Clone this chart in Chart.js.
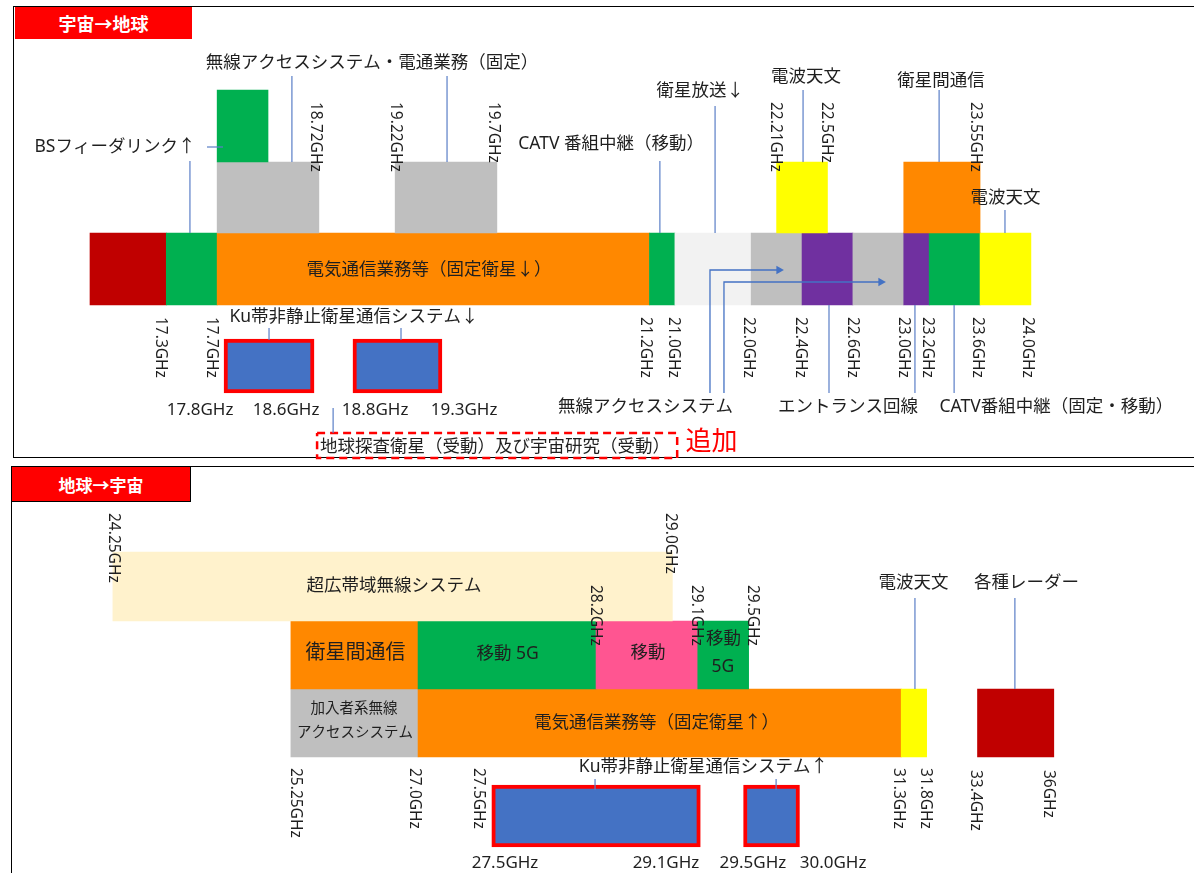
<!DOCTYPE html>
<html lang="ja">
<head>
<meta charset="UTF-8">
<title>周波数割当（宇宙→地球 / 地球→宇宙）</title>
<script src="https://cdn.jsdelivr.net/npm/chart.js@4.4.1/dist/chart.umd.min.js"></script>
<style>
  body { margin: 0; background: #fff; font-family: "Noto Sans", "Noto Sans CJK JP", sans-serif; }
  #wrap { position: relative; width: 1194px; height: 873px; overflow: hidden; }
  .panel { position: absolute; border: 1.5px solid #000; box-sizing: border-box; }
  .tab { position: absolute; background: #f00; color: #fff; font-weight: bold;
         display: flex; align-items: center; justify-content: center; box-sizing: border-box; }
  canvas { position: absolute; left: 0; top: 0; }
</style>
</head>
<body>
<div id="wrap">
  <div class="panel" style="left:13px; top:6px; width:1300px; height:452px;"></div>
  <div class="panel" style="left:11px; top:466px; width:1300px; height:500px;"></div>
  <div class="tab" style="left:15px; top:7px; width:177px; height:32px; font-size:18px;">宇宙→地球</div>
  <div class="tab" style="left:11px; top:466px; width:180px; height:36px; font-size:17px; border:1.5px solid #000;">地球→宇宙</div>
  <canvas id="chart" width="1194" height="873"></canvas>
</div>
<script>
// schematic frequency axis: one slot = one grid column of the original slide
const W = 1194, H = 873, COLPX = 25.43, X0PX = 90;

const RED = '#C00000', GREEN = '#00B050', ORANGE = '#FF8800', LIGHT = '#F2F2F2',
      GRAY = '#BFBFBF', PURPLE = '#7030A0', YELLOW = '#FFFF00', BEIGE = '#FFF2CC',
      PINK = '#FF5591', BLUE = '#4472C4', LEAD = '#5B7FC7', TXT = '#1f1f1f';

// ---- 宇宙→地球 ----
const downMainEdges = [0, 3, 5, 22, 23, 26, 28, 30, 32, 33, 35, 37];
const downMainColors = [RED, GREEN, ORANGE, GREEN, LIGHT, GRAY, PURPLE, GRAY, PURPLE, GREEN, YELLOW];
const downUpperFrom = [5, 12, 27, 32];
const downUpperTo = [9, 16, 29, 35];
const downUpperColors = [GRAY, GRAY, YELLOW, ORANGE];
const downTopFrom = [5], downTopTo = [7];
const downKuFrom = [5.27, 10.34], downKuTo = [8.81, 13.84];

const downTickText = ['18.72GHz', '19.22GHz', '19.7GHz', '22.21GHz', '22.5GHz', '23.55GHz',
  '17.3GHz', '17.7GHz', '21.2GHz', '21.0GHz', '22.0GHz', '22.4GHz', '22.6GHz', '23.0GHz', '23.2GHz', '23.6GHz', '24.0GHz'];
const downTickSlot = [9.12, 12.27, 16.12, 27.21, 29.22, 35.08,
  3.03, 5.03, 22.1, 23.2, 26.15, 28.2, 30.24, 32.25, 33.19, 35.16, 37.12];
const downTickTop = [102, 102, 102, 102, 102, 102, 317, 317, 317, 317, 317, 317, 317, 317, 317, 317, 317];

// ---- 地球→宇宙 ----
const upTopFrom = [0.9], upTopTo = [22.9];
const upMidEdges = [7.9, 12.9, 19.9, 23.9, 25.9];
const upMidColors = [ORANGE, GREEN, PINK, GREEN];
const upMainFrom = [7.9, 12.9, 31.9, 34.9];
const upMainTo = [12.9, 31.9, 32.9, 37.9];
const upMainColors = [GRAY, ORANGE, YELLOW, RED];
const upKuFrom = [15.8, 25.7], upKuTo = [24.0, 27.9];

const upTickText = ['24.25GHz', '29.0GHz', '28.2GHz', '29.1GHz', '29.5GHz',
  '25.25GHz', '27.0GHz', '27.5GHz', '31.3GHz', '31.8GHz', '33.4GHz', '36GHz'];
const upTickSlot = [1.18, 23.08, 20.13, 24.11, 26.31, 8.34, 13.02, 15.53, 32.05, 33.11, 35.08, 37.95];
const upTickTop = [513, 513, 585, 585, 585, 768, 768, 768, 768, 768, 770, 770];

// lanes (top / bottom edge of each row of blocks)
const laneTop = [90, 162, 233, 339, 552, 621, 689, 785];
const laneBottom = [162, 233, 305, 393, 621, 689, 757, 847];

// labels: text, slot (centre), y (centre), size
const labelText = ['BSフィーダリンク↑', '無線アクセスシステム・電通業務（固定）', 'CATV 番組中継（移動）', '衛星放送↓',
  '電波天文', '衛星間通信', '電波天文', '電気通信業務等（固定衛星↓）', 'Ku帯非静止衛星通信システム↓',
  '17.8GHz', '18.6GHz', '18.8GHz', '19.3GHz', '無線アクセスシステム', 'エントランス回線', 'CATV番組中継（固定・移動）',
  '地球探査衛星（受動）及び宇宙研究（受動）',
  '超広帯域無線システム', '衛星間通信', '移動 5G', '移動', '移動', '5G', '電波天文', '各種レーダー',
  '加入者系無線', 'アクセスシステム', '電気通信業務等（固定衛星↑）', 'Ku帯非静止衛星通信システム↑',
  '27.5GHz', '29.1GHz', '29.5GHz', '30.0GHz'];
const labelSlot = [0.98, 11.09, 20.49, 24.0, 28.16, 33.46, 36.0, 13.33, 10.38,
  4.33, 7.71, 11.21, 14.71, 21.84, 29.81, 38.0, 15.93,
  11.95, 10.44, 16.42, 21.94, 24.91, 24.89, 32.38, 36.83,
  10.38, 10.42, 22.28, 24.12, 16.32, 22.65, 26.07, 29.22];
const labelY = [147, 63, 144, 91, 77, 81, 198, 270, 317,
  410, 410, 410, 410, 407, 407, 407, 447,
  586, 653, 654, 653, 639, 667, 583, 583,
  709, 733, 723, 767, 863, 863, 863, 863];
const labelSize = [17.5, 17.5, 17.5, 17.5, 17.5, 17.5, 17.5, 17.5, 17.5,
  17, 17, 17, 17, 17.5, 17.5, 17.5, 17.5,
  17.5, 20, 17.5, 17.5, 17.5, 17.5, 17.5, 17.5,
  14.5, 14.5, 17.5, 17.5, 17, 17, 17, 17];

// leader lines [slot, y] point lists
const leaders = [
  [[3.93, 161], [3.93, 233]], [[4.6, 147], [5.23, 147]],
  [[7.94, 76], [7.94, 162]], [[14.04, 76], [14.04, 162]],
  [[22.41, 161], [22.41, 233]], [[24.58, 106], [24.58, 233]],
  [[28.04, 90], [28.04, 162]], [[33.39, 90], [33.39, 162]], [[35.98, 210], [35.98, 233]],
  [[7.04, 328], [7.04, 340]], [[12.23, 328], [12.23, 340]], [[9.56, 408], [9.56, 433]],
  [[29.06, 305], [29.06, 393]], [[32.44, 305], [32.44, 393]], [[33.98, 305], [33.98, 393]],
  [[32.44, 598], [32.44, 689]], [[36.37, 598], [36.37, 689]],
  [[19.86, 779], [19.86, 790]], [[26.98, 779], [26.98, 790]]
];
const arrows = [
  [[24.38, 393], [24.38, 270], [27.09, 270]],
  [[24.93, 393], [24.93, 282], [31.1, 282]]
];
const addedBox = [[8.93, 433], [23.09, 433], [23.09, 458], [8.93, 458], [8.93, 433]];

const xMin = -X0PX / COLPX, xMax = (W - X0PX) / COLPX;
const yMin = 0, yMax = H;
const pxPerY = H / (yMax - yMin);

function pts(list) { return list.map(p => ({ x: p[0], y: p[1] })); }
function lane(i, from, to, colors, extra) {
  return Object.assign({
    type: 'bar', indexAxis: 'y', grouped: false, order: 2, clip: false,
    data: from.map((f, k) => ({ x: [f, to[k]], y: (laneTop[i] + laneBottom[i]) / 2 })),
    backgroundColor: colors, borderWidth: 0,
    barThickness: (laneBottom[i] - laneTop[i]) * pxPerY
  }, extra || {});
}
const kuStyle = { borderWidth: 4, borderColor: '#FF0000', borderSkipped: false };

const datasets = [];
leaders.forEach(l => datasets.push({ type: 'line', data: pts(l), borderColor: LEAD, borderWidth: 1.2,
  pointRadius: 0, tension: 0, fill: false, order: 0, clip: false }));
arrows.forEach(l => datasets.push({ type: 'line', data: pts(l), borderColor: '#4472C4', borderWidth: 1.3,
  pointRadius: c => c.dataIndex === l.length - 1 ? 5 : 0, pointStyle: 'triangle', rotation: 90,
  pointBackgroundColor: '#4472C4', pointBorderWidth: 0, tension: 0, fill: false, order: 0, clip: false }));
datasets.push({ type: 'line', data: pts(addedBox), borderColor: '#FF0000', borderWidth: 2.5, borderDash: [8, 5],
  pointRadius: 0, tension: 0, fill: false, order: 0, clip: false });

datasets.push(lane(0, downTopFrom, downTopTo, [GREEN]));
datasets.push(lane(1, downUpperFrom, downUpperTo, downUpperColors));
datasets.push(lane(2, downMainEdges.slice(0, -1), downMainEdges.slice(1), downMainColors));
datasets.push(lane(3, downKuFrom, downKuTo, BLUE, kuStyle));
datasets.push(lane(4, upTopFrom, upTopTo, [BEIGE]));
datasets.push(lane(5, upMidEdges.slice(0, -1), upMidEdges.slice(1), upMidColors));
datasets.push(lane(6, upMainFrom, upMainTo, upMainColors));
datasets.push(lane(7, upKuFrom, upKuTo, BLUE, kuStyle));

const FONT = '"Noto Sans", "Noto Sans CJK JP", sans-serif';
const textPlugin = {
  id: 'texts',
  afterDatasetsDraw(chart) {
    const { ctx, scales: { x, y } } = chart;
    ctx.save();
    ctx.fillStyle = TXT;
    ctx.textAlign = 'center';
    ctx.textBaseline = 'middle';
    labelText.forEach((t, i) => {
      ctx.font = labelSize[i] + 'px ' + FONT;
      ctx.fillText(t, x.getPixelForValue(labelSlot[i]), y.getPixelForValue(labelY[i]));
    });
    // 追加
    ctx.fillStyle = '#FF0000';
    ctx.font = '26px ' + FONT;
    ctx.fillText('追加', x.getPixelForValue(24.44), y.getPixelForValue(443));
    // rotated frequency ticks
    ctx.fillStyle = TXT;
    const size = 15.5;
    ctx.font = size + 'px ' + FONT;
    ctx.textAlign = 'left';
    ctx.textBaseline = 'alphabetic';
    const rot = (texts, slots, tops) => texts.forEach((t, i) => {
      ctx.save();
      ctx.translate(x.getPixelForValue(slots[i]) - 0.714 * size, y.getPixelForValue(tops[i]));
      ctx.rotate(Math.PI / 2);
      ctx.fillText(t, 0, 0);
      ctx.restore();
    });
    rot(downTickText, downTickSlot, downTickTop);
    rot(upTickText, upTickSlot, upTickTop);
    ctx.restore();
  }
};

new Chart(document.getElementById('chart'), {
  type: 'bar',
  data: { datasets },
  options: {
    responsive: false,
    animation: false,
    events: [],
    layout: { padding: 0, autoPadding: false },
    plugins: { legend: { display: false }, tooltip: { enabled: false } },
    scales: {
      x: { type: 'linear', min: xMin, max: xMax, display: false, offset: false, grace: 0 },
      y: { type: 'linear', min: yMin, max: yMax, reverse: true, display: false, offset: false, grace: 0 }
    }
  },
  plugins: [textPlugin]
});
</script>
</body>
</html>
